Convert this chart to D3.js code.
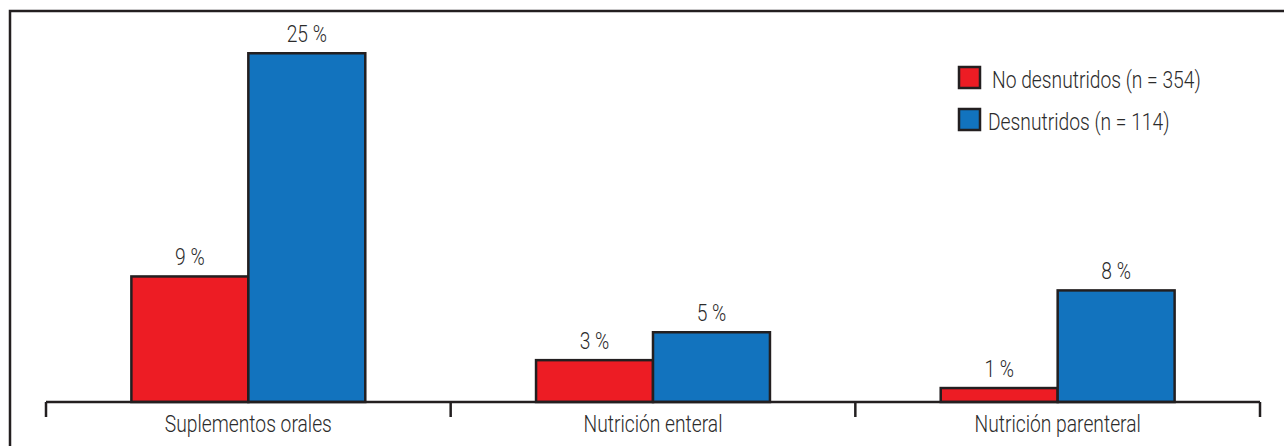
<!DOCTYPE html>
<html>
<head>
<meta charset="utf-8">
<script src="https://cdn.jsdelivr.net/npm/d3@7"></script>
<style>
  html, body { margin: 0; padding: 0; background: #fff; }
  svg { display: block; }
  text { font-family: "Roboto", "DejaVu Sans Condensed", sans-serif; font-weight: 300; fill: #2b2b2b; }
</style>
</head>
<body>
<svg id="chart" width="1284" height="446"></svg>
<script>
// Nutritional support by nutritional status
const categories = ["Suplementos orales", "Nutrición enteral", "Nutrición parenteral"];
const seriesNames = ["No desnutridos (n = 354)", "Desnutridos (n = 114)"];
const noDesnutridos = [9, 3, 1];
const desnutridos = [25, 5, 8];
const seriesColors = ["#ED1C24", "#1273BE"];

const svg = d3.select("#chart");
const W = 1284, H = 446;
const ink = "#231F20";
const fontSize = 23.5;
const condense = 0.82;   // horizontal squeeze for a condensed look

// Places a horizontally condensed text label at (x, y)
function label(sel, x, y, anchor) {
  return sel.append("text")
    .attr("transform", `translate(${x},${y}) scale(${condense},1)`)
    .attr("text-anchor", anchor)
    .attr("font-size", fontSize);
}

// Outer frame (open at the right and bottom edges)
svg.append("path")
  .attr("d", `M10,${H} V11 H${W}`)
  .attr("fill", "none")
  .attr("stroke", ink)
  .attr("stroke-width", 2.5);

const baseY = 402;
const x0 = d3.scaleBand().domain(categories).range([46, 1260]).paddingInner(0).paddingOuter(0);
const x1 = d3.scaleBand().domain(seriesNames).range([0, x0.bandwidth()]).paddingInner(0).paddingOuter(0.73);
const y = d3.scaleLinear().domain([0, 25]).range([baseY, baseY - 25 * 13.95]);

const rows = categories.map((c, i) => ({
  cat: c,
  vals: [noDesnutridos[i], desnutridos[i]].map((v, j) => ({ v, s: seriesNames[j], j }))
}));

const groups = svg.append("g").selectAll("g")
  .data(rows).join("g")
  .attr("transform", d => `translate(${x0(d.cat)},0)`);

groups.selectAll("rect")
  .data(d => d.vals)
  .join("rect")
  .attr("x", d => x1(d.s))
  .attr("y", d => y(d.v))
  .attr("width", x1.bandwidth())
  .attr("height", d => baseY - y(d.v))
  .attr("fill", d => seriesColors[d.j])
  .attr("stroke", ink)
  .attr("stroke-width", 2.5);

groups.each(function (d) {
  const g = d3.select(this);
  d.vals.forEach(b => {
    label(g, x1(b.s) + x1.bandwidth() / 2, y(b.v) - 11, "middle").text(`${b.v} %`);
  });
});

// Category axis with boundary ticks
const axisG = svg.append("g");
axisG.append("line")
  .attr("x1", 46).attr("x2", 1260)
  .attr("y1", baseY).attr("y2", baseY)
  .attr("stroke", ink).attr("stroke-width", 2.5);
const boundaries = categories.map(c => x0(c)).concat([x0(categories[categories.length - 1]) + x0.bandwidth()]);
axisG.selectAll("line.tick")
  .data(boundaries).join("line")
  .attr("class", "tick")
  .attr("x1", d => d).attr("x2", d => d)
  .attr("y1", baseY).attr("y2", baseY + 15)
  .attr("stroke", ink).attr("stroke-width", 2.5);
categories.forEach(c => {
  label(axisG, x0(c) + x0.bandwidth() / 2, 432, "middle").text(c);
});

// Legend
const legend = svg.append("g");
const legendItems = [
  { name: seriesNames[0], color: seriesColors[0], y: 67, tx: 992 },
  { name: seriesNames[1], color: seriesColors[1], y: 109, tx: 988 }
];
legend.selectAll("rect")
  .data(legendItems).join("rect")
  .attr("x", 959).attr("y", d => d.y)
  .attr("width", 21).attr("height", 21)
  .attr("fill", d => d.color)
  .attr("stroke", ink).attr("stroke-width", 2.5);
legendItems.forEach(it => {
  label(legend, it.tx, it.y + 21, "start").text(it.name);
});
</script>
</body>
</html>
